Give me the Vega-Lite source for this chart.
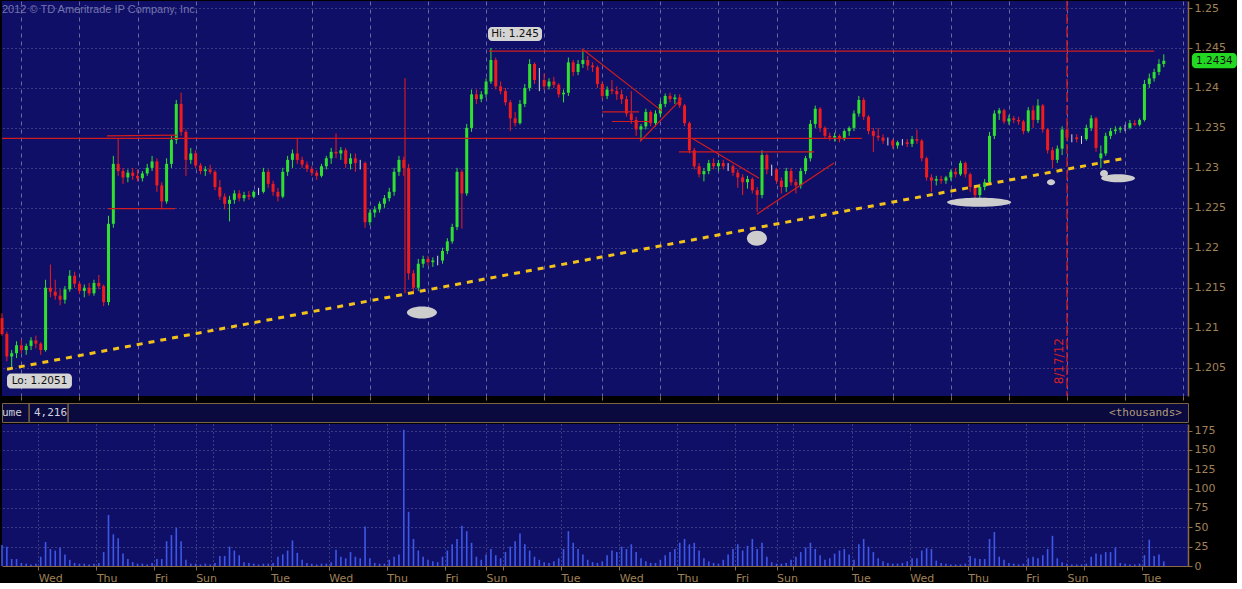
{
"$schema":"https://vega.github.io/schema/vega-lite/v6.json",
"background":"#000000",
"padding":0,
"spacing":0,
"config":{"view":{"stroke":null},"font":"DejaVu Sans","scale":{"continuousPadding":0}},
"datasets":{
"bars":[
{"t":0,"o":1.2112,"h":1.2118,"l":1.2090,"c":1.2092,"v":27},
{"t":2,"o":1.2092,"h":1.2095,"l":1.2058,"c":1.2064,"v":25},
{"t":4,"o":1.2064,"h":1.2072,"l":1.2051,"c":1.2068,"v":9},
{"t":6,"o":1.2068,"h":1.2083,"l":1.2062,"c":1.2078,"v":9},
{"t":8,"o":1.2078,"h":1.2085,"l":1.2068,"c":1.2072,"v":4},
{"t":10,"o":1.2072,"h":1.2080,"l":1.2066,"c":1.2077,"v":3},
{"t":12,"o":1.2077,"h":1.2088,"l":1.2072,"c":1.2084,"v":2},
{"t":14,"o":1.2084,"h":1.2090,"l":1.2074,"c":1.2080,"v":3},
{"t":16,"o":1.2080,"h":1.2082,"l":1.2066,"c":1.2072,"v":12},
{"t":18,"o":1.2072,"h":1.2160,"l":1.2070,"c":1.2150,"v":31},
{"t":20,"o":1.2150,"h":1.2179,"l":1.2138,"c":1.2145,"v":22},
{"t":22,"o":1.2145,"h":1.2160,"l":1.2135,"c":1.2140,"v":20},
{"t":24,"o":1.2140,"h":1.2148,"l":1.2128,"c":1.2135,"v":24},
{"t":26,"o":1.2135,"h":1.2152,"l":1.2130,"c":1.2148,"v":15},
{"t":28,"o":1.2148,"h":1.2172,"l":1.2145,"c":1.2165,"v":8},
{"t":30,"o":1.2165,"h":1.2170,"l":1.2150,"c":1.2155,"v":4},
{"t":32,"o":1.2155,"h":1.2158,"l":1.2142,"c":1.2146,"v":3},
{"t":34,"o":1.2146,"h":1.2154,"l":1.2138,"c":1.2150,"v":3},
{"t":36,"o":1.2150,"h":1.2156,"l":1.2140,"c":1.2143,"v":2},
{"t":38,"o":1.2143,"h":1.2160,"l":1.2140,"c":1.2156,"v":3},
{"t":40,"o":1.2156,"h":1.2166,"l":1.2148,"c":1.2152,"v":4},
{"t":42,"o":1.2152,"h":1.2154,"l":1.2127,"c":1.2132,"v":18},
{"t":44,"o":1.2132,"h":1.2240,"l":1.2128,"c":1.2230,"v":66},
{"t":46,"o":1.2230,"h":1.2315,"l":1.2225,"c":1.2305,"v":41},
{"t":48,"o":1.2305,"h":1.2336,"l":1.2290,"c":1.2296,"v":36},
{"t":50,"o":1.2296,"h":1.2300,"l":1.2280,"c":1.2288,"v":16},
{"t":52,"o":1.2288,"h":1.2298,"l":1.2282,"c":1.2294,"v":9},
{"t":54,"o":1.2294,"h":1.2300,"l":1.2285,"c":1.2290,"v":5},
{"t":56,"o":1.2290,"h":1.2298,"l":1.2283,"c":1.2287,"v":3},
{"t":58,"o":1.2287,"h":1.2296,"l":1.2283,"c":1.2293,"v":3},
{"t":60,"o":1.2293,"h":1.2305,"l":1.2290,"c":1.2300,"v":2},
{"t":62,"o":1.2300,"h":1.2315,"l":1.2296,"c":1.2308,"v":4},
{"t":64,"o":1.2308,"h":1.2312,"l":1.2270,"c":1.2278,"v":9},
{"t":66,"o":1.2278,"h":1.2282,"l":1.2248,"c":1.2258,"v":9},
{"t":68,"o":1.2258,"h":1.2312,"l":1.2255,"c":1.2305,"v":32},
{"t":70,"o":1.2305,"h":1.2340,"l":1.2300,"c":1.2335,"v":40},
{"t":72,"o":1.2335,"h":1.2385,"l":1.2330,"c":1.2380,"v":49},
{"t":74,"o":1.2380,"h":1.2394,"l":1.2340,"c":1.2345,"v":32},
{"t":76,"o":1.2345,"h":1.2348,"l":1.2290,"c":1.2310,"v":8},
{"t":78,"o":1.2310,"h":1.2325,"l":1.2305,"c":1.2318,"v":3},
{"t":80,"o":1.2318,"h":1.2322,"l":1.2300,"c":1.2303,"v":3},
{"t":82,"o":1.2303,"h":1.2306,"l":1.2292,"c":1.2296,"v":2},
{"t":84,"o":1.2296,"h":1.2302,"l":1.2290,"c":1.2298,"v":3},
{"t":86,"o":1.2298,"h":1.2304,"l":1.2292,"c":1.2295,"v":2},
{"t":88,"o":1.2295,"h":1.2297,"l":1.2272,"c":1.2276,"v":4},
{"t":90,"o":1.2276,"h":1.2285,"l":1.2260,"c":1.2264,"v":13},
{"t":92,"o":1.2264,"h":1.2268,"l":1.2248,"c":1.2255,"v":13},
{"t":94,"o":1.2255,"h":1.2265,"l":1.2233,"c":1.2260,"v":25},
{"t":96,"o":1.2260,"h":1.2272,"l":1.2255,"c":1.2268,"v":20},
{"t":98,"o":1.2268,"h":1.2272,"l":1.2258,"c":1.2262,"v":14},
{"t":100,"o":1.2262,"h":1.2270,"l":1.2258,"c":1.2266,"v":5},
{"t":102,"o":1.2266,"h":1.2271,"l":1.2260,"c":1.2264,"v":4},
{"t":104,"o":1.2264,"h":1.2272,"l":1.2262,"c":1.2270,"v":3},
{"t":106,"o":1.2270,"h":1.2275,"l":1.2266,"c":1.2270,"v":2},
{"t":108,"o":1.2270,"h":1.2300,"l":1.2268,"c":1.2295,"v":3},
{"t":110,"o":1.2295,"h":1.2298,"l":1.2275,"c":1.2280,"v":3},
{"t":112,"o":1.2280,"h":1.2284,"l":1.2265,"c":1.2270,"v":4},
{"t":114,"o":1.2270,"h":1.2275,"l":1.2258,"c":1.2264,"v":12},
{"t":116,"o":1.2264,"h":1.2300,"l":1.2262,"c":1.2295,"v":15},
{"t":118,"o":1.2295,"h":1.2315,"l":1.2290,"c":1.2310,"v":20},
{"t":120,"o":1.2310,"h":1.2323,"l":1.2300,"c":1.2318,"v":33},
{"t":122,"o":1.2318,"h":1.2337,"l":1.2305,"c":1.2310,"v":17},
{"t":124,"o":1.2310,"h":1.2314,"l":1.2300,"c":1.2304,"v":8},
{"t":126,"o":1.2304,"h":1.2308,"l":1.2295,"c":1.2299,"v":4},
{"t":128,"o":1.2299,"h":1.2302,"l":1.2290,"c":1.2294,"v":3},
{"t":130,"o":1.2294,"h":1.2297,"l":1.2285,"c":1.2290,"v":2},
{"t":132,"o":1.2290,"h":1.2305,"l":1.2288,"c":1.2302,"v":3},
{"t":134,"o":1.2302,"h":1.2315,"l":1.2298,"c":1.2312,"v":3},
{"t":136,"o":1.2312,"h":1.2325,"l":1.2305,"c":1.2320,"v":5},
{"t":138,"o":1.2320,"h":1.2343,"l":1.2312,"c":1.2318,"v":21},
{"t":140,"o":1.2318,"h":1.2326,"l":1.2310,"c":1.2322,"v":12},
{"t":142,"o":1.2322,"h":1.2325,"l":1.2300,"c":1.2305,"v":10},
{"t":144,"o":1.2305,"h":1.2318,"l":1.2298,"c":1.2312,"v":18},
{"t":146,"o":1.2312,"h":1.2318,"l":1.2295,"c":1.2306,"v":12},
{"t":148,"o":1.2306,"h":1.2310,"l":1.2298,"c":1.2306,"v":10},
{"t":150,"o":1.2306,"h":1.2308,"l":1.2225,"c":1.2232,"v":51},
{"t":152,"o":1.2232,"h":1.2248,"l":1.2228,"c":1.2244,"v":10},
{"t":154,"o":1.2244,"h":1.2252,"l":1.2238,"c":1.2248,"v":4},
{"t":156,"o":1.2248,"h":1.2258,"l":1.2244,"c":1.2255,"v":3},
{"t":158,"o":1.2255,"h":1.2266,"l":1.2250,"c":1.2262,"v":3},
{"t":160,"o":1.2262,"h":1.2275,"l":1.2258,"c":1.2270,"v":8},
{"t":162,"o":1.2270,"h":1.2300,"l":1.2265,"c":1.2295,"v":12},
{"t":164,"o":1.2295,"h":1.2315,"l":1.2290,"c":1.2310,"v":15},
{"t":166,"o":1.2310,"h":1.2314,"l":1.2290,"c":1.2300,"v":176},
{"t":168,"o":1.2300,"h":1.2305,"l":1.2160,"c":1.2168,"v":70},
{"t":170,"o":1.2168,"h":1.2172,"l":1.2142,"c":1.2150,"v":35},
{"t":172,"o":1.2150,"h":1.2186,"l":1.2146,"c":1.2180,"v":20},
{"t":174,"o":1.2180,"h":1.2190,"l":1.2175,"c":1.2186,"v":12},
{"t":176,"o":1.2186,"h":1.2190,"l":1.2178,"c":1.2182,"v":8},
{"t":178,"o":1.2182,"h":1.2188,"l":1.2176,"c":1.2184,"v":6},
{"t":180,"o":1.2184,"h":1.2190,"l":1.2178,"c":1.2184,"v":5},
{"t":182,"o":1.2184,"h":1.2200,"l":1.2180,"c":1.2196,"v":12},
{"t":184,"o":1.2196,"h":1.2212,"l":1.2192,"c":1.2208,"v":20},
{"t":186,"o":1.2208,"h":1.2230,"l":1.2205,"c":1.2226,"v":28},
{"t":188,"o":1.2226,"h":1.2300,"l":1.2222,"c":1.2295,"v":35},
{"t":190,"o":1.2295,"h":1.2298,"l":1.2224,"c":1.2268,"v":52},
{"t":192,"o":1.2268,"h":1.2355,"l":1.2265,"c":1.2350,"v":45},
{"t":194,"o":1.2350,"h":1.2398,"l":1.2345,"c":1.2392,"v":30},
{"t":196,"o":1.2392,"h":1.2398,"l":1.2380,"c":1.2386,"v":12},
{"t":198,"o":1.2386,"h":1.2396,"l":1.2382,"c":1.2392,"v":8},
{"t":200,"o":1.2392,"h":1.2412,"l":1.2388,"c":1.2408,"v":15},
{"t":202,"o":1.2408,"h":1.2450,"l":1.2405,"c":1.2435,"v":22},
{"t":204,"o":1.2435,"h":1.2438,"l":1.2398,"c":1.2402,"v":14},
{"t":206,"o":1.2402,"h":1.2408,"l":1.2392,"c":1.2396,"v":10},
{"t":208,"o":1.2396,"h":1.2400,"l":1.2378,"c":1.2382,"v":18},
{"t":210,"o":1.2382,"h":1.2385,"l":1.2346,"c":1.2362,"v":25},
{"t":212,"o":1.2362,"h":1.2370,"l":1.2352,"c":1.2356,"v":32},
{"t":214,"o":1.2356,"h":1.2385,"l":1.2354,"c":1.2380,"v":42},
{"t":216,"o":1.2380,"h":1.2405,"l":1.2376,"c":1.2400,"v":28},
{"t":218,"o":1.2400,"h":1.2436,"l":1.2396,"c":1.2430,"v":20},
{"t":220,"o":1.2430,"h":1.2432,"l":1.2405,"c":1.2410,"v":12},
{"t":222,"o":1.2410,"h":1.2425,"l":1.2396,"c":1.2410,"v":8},
{"t":224,"o":1.2410,"h":1.2418,"l":1.2398,"c":1.2402,"v":5},
{"t":226,"o":1.2402,"h":1.2412,"l":1.2398,"c":1.2408,"v":4},
{"t":228,"o":1.2408,"h":1.2414,"l":1.2400,"c":1.2404,"v":6},
{"t":230,"o":1.2404,"h":1.2406,"l":1.2388,"c":1.2392,"v":10},
{"t":232,"o":1.2392,"h":1.2398,"l":1.2382,"c":1.2394,"v":22},
{"t":234,"o":1.2394,"h":1.2438,"l":1.2390,"c":1.2432,"v":45},
{"t":236,"o":1.2432,"h":1.2435,"l":1.2415,"c":1.2420,"v":30},
{"t":238,"o":1.2420,"h":1.2435,"l":1.2416,"c":1.2430,"v":22},
{"t":240,"o":1.2430,"h":1.2447,"l":1.2425,"c":1.2435,"v":15},
{"t":242,"o":1.2435,"h":1.2440,"l":1.2422,"c":1.2428,"v":8},
{"t":244,"o":1.2428,"h":1.2432,"l":1.2420,"c":1.2426,"v":5},
{"t":246,"o":1.2426,"h":1.2428,"l":1.2400,"c":1.2405,"v":4},
{"t":248,"o":1.2405,"h":1.2408,"l":1.2386,"c":1.2390,"v":6},
{"t":250,"o":1.2390,"h":1.2402,"l":1.2386,"c":1.2398,"v":14},
{"t":252,"o":1.2398,"h":1.2410,"l":1.2392,"c":1.2396,"v":20},
{"t":254,"o":1.2396,"h":1.2402,"l":1.2385,"c":1.2392,"v":18},
{"t":256,"o":1.2392,"h":1.2398,"l":1.2380,"c":1.2386,"v":25},
{"t":258,"o":1.2386,"h":1.2390,"l":1.2364,"c":1.2368,"v":22},
{"t":260,"o":1.2368,"h":1.2396,"l":1.2355,"c":1.2360,"v":28},
{"t":262,"o":1.2360,"h":1.2364,"l":1.2340,"c":1.2348,"v":18},
{"t":264,"o":1.2348,"h":1.2355,"l":1.2334,"c":1.2352,"v":10},
{"t":266,"o":1.2352,"h":1.2374,"l":1.2348,"c":1.2370,"v":6},
{"t":268,"o":1.2370,"h":1.2372,"l":1.2352,"c":1.2356,"v":4},
{"t":270,"o":1.2356,"h":1.2372,"l":1.2352,"c":1.2368,"v":4},
{"t":272,"o":1.2368,"h":1.2384,"l":1.2364,"c":1.2380,"v":8},
{"t":274,"o":1.2380,"h":1.2393,"l":1.2376,"c":1.2390,"v":14},
{"t":276,"o":1.2390,"h":1.2394,"l":1.2382,"c":1.2386,"v":18},
{"t":278,"o":1.2386,"h":1.2392,"l":1.2380,"c":1.2388,"v":22},
{"t":280,"o":1.2388,"h":1.2392,"l":1.2375,"c":1.2378,"v":30},
{"t":282,"o":1.2378,"h":1.2380,"l":1.2352,"c":1.2356,"v":35},
{"t":284,"o":1.2356,"h":1.2358,"l":1.2318,"c":1.2322,"v":28},
{"t":286,"o":1.2322,"h":1.2325,"l":1.2298,"c":1.2302,"v":30},
{"t":288,"o":1.2302,"h":1.2306,"l":1.2288,"c":1.2292,"v":20},
{"t":290,"o":1.2292,"h":1.2300,"l":1.2283,"c":1.2296,"v":10},
{"t":292,"o":1.2296,"h":1.2310,"l":1.2292,"c":1.2306,"v":6},
{"t":294,"o":1.2306,"h":1.2312,"l":1.2298,"c":1.2302,"v":4},
{"t":296,"o":1.2302,"h":1.2310,"l":1.2296,"c":1.2306,"v":3},
{"t":298,"o":1.2306,"h":1.2310,"l":1.2298,"c":1.2302,"v":8},
{"t":300,"o":1.2302,"h":1.2306,"l":1.2296,"c":1.2302,"v":15},
{"t":302,"o":1.2302,"h":1.2304,"l":1.2290,"c":1.2294,"v":22},
{"t":304,"o":1.2294,"h":1.2298,"l":1.2275,"c":1.2288,"v":28},
{"t":306,"o":1.2288,"h":1.2292,"l":1.2266,"c":1.2282,"v":20},
{"t":308,"o":1.2282,"h":1.2290,"l":1.2274,"c":1.2286,"v":26},
{"t":310,"o":1.2286,"h":1.2288,"l":1.2268,"c":1.2272,"v":35},
{"t":312,"o":1.2272,"h":1.2276,"l":1.2245,"c":1.2266,"v":22},
{"t":314,"o":1.2266,"h":1.2322,"l":1.2262,"c":1.2316,"v":30},
{"t":316,"o":1.2316,"h":1.2318,"l":1.2292,"c":1.2298,"v":12},
{"t":318,"o":1.2298,"h":1.2304,"l":1.2290,"c":1.2298,"v":5},
{"t":320,"o":1.2298,"h":1.2300,"l":1.2280,"c":1.2284,"v":3},
{"t":322,"o":1.2284,"h":1.2288,"l":1.2268,"c":1.2276,"v":3},
{"t":324,"o":1.2276,"h":1.2300,"l":1.2270,"c":1.2296,"v":4},
{"t":326,"o":1.2296,"h":1.2300,"l":1.2278,"c":1.2282,"v":8},
{"t":328,"o":1.2282,"h":1.2286,"l":1.2268,"c":1.2278,"v":12},
{"t":330,"o":1.2278,"h":1.2300,"l":1.2274,"c":1.2296,"v":18},
{"t":332,"o":1.2296,"h":1.2315,"l":1.2292,"c":1.2312,"v":24},
{"t":334,"o":1.2312,"h":1.2360,"l":1.2308,"c":1.2355,"v":30},
{"t":336,"o":1.2355,"h":1.2378,"l":1.2350,"c":1.2374,"v":22},
{"t":338,"o":1.2374,"h":1.2376,"l":1.2345,"c":1.2350,"v":14},
{"t":340,"o":1.2350,"h":1.2352,"l":1.2336,"c":1.2340,"v":8},
{"t":342,"o":1.2340,"h":1.2344,"l":1.2334,"c":1.2338,"v":10},
{"t":344,"o":1.2338,"h":1.2344,"l":1.2333,"c":1.2340,"v":16},
{"t":346,"o":1.2340,"h":1.2342,"l":1.2332,"c":1.2336,"v":20},
{"t":348,"o":1.2336,"h":1.2348,"l":1.2334,"c":1.2346,"v":22},
{"t":350,"o":1.2346,"h":1.2352,"l":1.2340,"c":1.2350,"v":15},
{"t":352,"o":1.2350,"h":1.2372,"l":1.2346,"c":1.2368,"v":8},
{"t":354,"o":1.2368,"h":1.2390,"l":1.2364,"c":1.2385,"v":28},
{"t":356,"o":1.2385,"h":1.2388,"l":1.2360,"c":1.2364,"v":35},
{"t":358,"o":1.2364,"h":1.2366,"l":1.2342,"c":1.2346,"v":25},
{"t":360,"o":1.2346,"h":1.2350,"l":1.2320,"c":1.2340,"v":18},
{"t":362,"o":1.2340,"h":1.2350,"l":1.2334,"c":1.2338,"v":10},
{"t":364,"o":1.2338,"h":1.2342,"l":1.2330,"c":1.2334,"v":6},
{"t":366,"o":1.2334,"h":1.2338,"l":1.2328,"c":1.2334,"v":4},
{"t":368,"o":1.2334,"h":1.2336,"l":1.2324,"c":1.2328,"v":3},
{"t":370,"o":1.2328,"h":1.2334,"l":1.2324,"c":1.2332,"v":3},
{"t":372,"o":1.2332,"h":1.2336,"l":1.2328,"c":1.2332,"v":4},
{"t":374,"o":1.2332,"h":1.2336,"l":1.2326,"c":1.2330,"v":6},
{"t":376,"o":1.2330,"h":1.2340,"l":1.2326,"c":1.2336,"v":10},
{"t":378,"o":1.2336,"h":1.2348,"l":1.2330,"c":1.2334,"v":10},
{"t":380,"o":1.2334,"h":1.2336,"l":1.2308,"c":1.2312,"v":20},
{"t":382,"o":1.2312,"h":1.2314,"l":1.2284,"c":1.2288,"v":23},
{"t":384,"o":1.2288,"h":1.2292,"l":1.2270,"c":1.2284,"v":22},
{"t":386,"o":1.2284,"h":1.2290,"l":1.2278,"c":1.2286,"v":7},
{"t":388,"o":1.2286,"h":1.2290,"l":1.2280,"c":1.2284,"v":4},
{"t":390,"o":1.2284,"h":1.2290,"l":1.2280,"c":1.2288,"v":3},
{"t":392,"o":1.2288,"h":1.2298,"l":1.2284,"c":1.2295,"v":2},
{"t":394,"o":1.2295,"h":1.2300,"l":1.2288,"c":1.2292,"v":2},
{"t":396,"o":1.2292,"h":1.2309,"l":1.2290,"c":1.2306,"v":2},
{"t":398,"o":1.2306,"h":1.2308,"l":1.2288,"c":1.2292,"v":3},
{"t":400,"o":1.2292,"h":1.2294,"l":1.2270,"c":1.2276,"v":13},
{"t":402,"o":1.2276,"h":1.2278,"l":1.2258,"c":1.2266,"v":10},
{"t":404,"o":1.2266,"h":1.2280,"l":1.2262,"c":1.2276,"v":9},
{"t":406,"o":1.2276,"h":1.2286,"l":1.2272,"c":1.2282,"v":9},
{"t":408,"o":1.2282,"h":1.2345,"l":1.2280,"c":1.2340,"v":35},
{"t":410,"o":1.2340,"h":1.2372,"l":1.2336,"c":1.2368,"v":44},
{"t":412,"o":1.2368,"h":1.2375,"l":1.2360,"c":1.2372,"v":12},
{"t":414,"o":1.2372,"h":1.2374,"l":1.2355,"c":1.2358,"v":8},
{"t":416,"o":1.2358,"h":1.2366,"l":1.2354,"c":1.2362,"v":4},
{"t":418,"o":1.2362,"h":1.2365,"l":1.2356,"c":1.2360,"v":3},
{"t":420,"o":1.2360,"h":1.2364,"l":1.2354,"c":1.2358,"v":2},
{"t":422,"o":1.2358,"h":1.2360,"l":1.2342,"c":1.2346,"v":3},
{"t":424,"o":1.2346,"h":1.2376,"l":1.2344,"c":1.2372,"v":10},
{"t":426,"o":1.2372,"h":1.2378,"l":1.2350,"c":1.2360,"v":12},
{"t":428,"o":1.2360,"h":1.2386,"l":1.2356,"c":1.2378,"v":10},
{"t":430,"o":1.2378,"h":1.2380,"l":1.2344,"c":1.2348,"v":14},
{"t":432,"o":1.2348,"h":1.2350,"l":1.2318,"c":1.2322,"v":22},
{"t":434,"o":1.2322,"h":1.2326,"l":1.2300,"c":1.2310,"v":39},
{"t":436,"o":1.2310,"h":1.2328,"l":1.2306,"c":1.2324,"v":10},
{"t":438,"o":1.2324,"h":1.2352,"l":1.2316,"c":1.2348,"v":5},
{"t":440,"o":1.2348,"h":1.2350,"l":1.2334,"c":1.2338,"v":3},
{"t":442,"o":1.2338,"h":1.2342,"l":1.2332,"c":1.2338,"v":2},
{"t":444,"o":1.2338,"h":1.2342,"l":1.2332,"c":1.2336,"v":2},
{"t":446,"o":1.2336,"h":1.2340,"l":1.2330,"c":1.2336,"v":2},
{"t":448,"o":1.2336,"h":1.2354,"l":1.2334,"c":1.2350,"v":3},
{"t":450,"o":1.2350,"h":1.2366,"l":1.2346,"c":1.2362,"v":12},
{"t":452,"o":1.2362,"h":1.2364,"l":1.2320,"c":1.2325,"v":16},
{"t":454,"o":1.2312,"h":1.2328,"l":1.2300,"c":1.2318,"v":15},
{"t":456,"o":1.2318,"h":1.2344,"l":1.2315,"c":1.2340,"v":18},
{"t":458,"o":1.2340,"h":1.2350,"l":1.2336,"c":1.2346,"v":18},
{"t":460,"o":1.2346,"h":1.2352,"l":1.2342,"c":1.2348,"v":24},
{"t":462,"o":1.2348,"h":1.2352,"l":1.2344,"c":1.2350,"v":4},
{"t":464,"o":1.2350,"h":1.2354,"l":1.2346,"c":1.2350,"v":3},
{"t":466,"o":1.2350,"h":1.2360,"l":1.2348,"c":1.2356,"v":2},
{"t":468,"o":1.2356,"h":1.2360,"l":1.2352,"c":1.2354,"v":2},
{"t":470,"o":1.2354,"h":1.2362,"l":1.2352,"c":1.2360,"v":3},
{"t":472,"o":1.2360,"h":1.2410,"l":1.2358,"c":1.2405,"v":14},
{"t":474,"o":1.2405,"h":1.2418,"l":1.2400,"c":1.2412,"v":34},
{"t":476,"o":1.2412,"h":1.2424,"l":1.2408,"c":1.2420,"v":13},
{"t":478,"o":1.2420,"h":1.2436,"l":1.2416,"c":1.2430,"v":15},
{"t":480,"o":1.2430,"h":1.2442,"l":1.2426,"c":1.2434,"v":6}
],
"lines":[
{"t1":0,"p1":1.2337,"t2":355.3,"p2":1.2337},
{"t1":43.4,"p1":1.2340,"t2":72.3,"p2":1.2341},
{"t1":43.8,"p1":1.2249,"t2":71.5,"p2":1.2249},
{"t1":201.2,"p1":1.2446,"t2":476,"p2":1.2446},
{"t1":166.5,"p1":1.2412,"t2":166.5,"p2":1.2143},
{"t1":239.6,"p1":1.2449,"t2":272.7,"p2":1.2371},
{"t1":263.6,"p1":1.2333,"t2":280.9,"p2":1.2387},
{"t1":247.9,"p1":1.2370,"t2":263.2,"p2":1.2370},
{"t1":252,"p1":1.2358,"t2":268.5,"p2":1.2358},
{"t1":279.7,"p1":1.2320,"t2":335.5,"p2":1.2320},
{"t1":285.1,"p1":1.2337,"t2":312.8,"p2":1.2287},
{"t1":311.9,"p1":1.2242,"t2":343.7,"p2":1.2306}
],
"trend":[{"t1":2.07,"p1":1.2048,"t2":463.9,"p2":1.2312}],
"marker":[{"t":440,"p":1.2058,"txt":"8/17/12"}],
"ells":[
{"t":173.5,"p":1.2119,"e":"a"},
{"t":311.9,"p":1.2212,"e":"b"},
{"t":403.7,"p":1.2257,"e":"c"},
{"t":433.4,"p":1.2282,"e":"d"},
{"t":461.1,"p":1.2287,"e":"e"},
{"t":455.3,"p":1.2293,"e":"f"}
],
"boxes":[
{"t1":200.8,"t2":223.1,"p1":1.24762,"p2":1.24587,"tc":211.95,"pc":1.24675,"txt":"Hi: 1.245","k":"hl"},
{"t1":2.07,"t2":28.9,"p1":1.20427,"p2":1.20238,"tc":15.5,"pc":1.20333,"txt":"Lo: 1.2051","k":"hl"},
{"t1":491.6,"t2":510.2,"p1":1.24436,"p2":1.24248,"tc":500.9,"pc":1.24342,"txt":"1.2434","k":"last"}
],
"copy":[{"t":0,"p":1.2497,"txt":"2012 © TD Ameritrade IP Company, Inc."}],
"hdrL":[{"t":0,"txt":"ume"},{"t":13.2,"txt":"4,216"}],
"hdrR":[{"t":487.5,"txt":"<thousands>"}],
"hdrSep":[{"t":11.2},{"t":27.3}]
},
"vconcat":[
{
"width":1186,"height":395,
"view":{"fill":"#0f0f68","stroke":null},
"layer":[
{"data":{"name":"bars"},"mark":{"type":"rule","strokeWidth":1},
"encoding":{
"x":{"field":"t","type":"quantitative","title":null,"scale":{"domain":[0,490],"nice":false,"zero":false,"padding":0},
"axis":{"title":null,"values":[8,15,32,39,56,63,80,87,104,111,128,135,152,159,176,183,200,207,224,231,248,255,272,279,296,303,320,327,344,351,368,375,392,399,416,423,440,447,464,471,488],"labels":false,"ticks":true,"tickSize":4,"tickColor":"#8c6c45","domain":false,"grid":true,"gridColor":"#a4a4bc","gridOpacity":0.6,"gridDash":{"condition":{"test":"(datum.value - 8) % 24 === 0","value":[4,4]},"value":[1,3]}}},
"y":{"field":"l","type":"quantitative","title":null,"scale":{"domain":[1.20145,1.25088],"nice":false,"zero":false,"padding":0},
"axis":{"title":null,"orient":"right","values":[1.205,1.21,1.215,1.22,1.225,1.23,1.235,1.24,1.245,1.25],"format":".4~f","labelColor":"#a08258","labelFontSize":11,"labelPadding":2,"tickColor":"#8c6c45","tickSize":4,"domainColor":"#8c6c45","domainWidth":1.5,"grid":true,"gridDash":[1,3],"gridColor":"#a4a4bc","gridOpacity":0.6}},
"y2":{"field":"h"},
"color":{"condition":[{"test":"datum.c > datum.o","value":"#2fe02f"},{"test":"datum.c < datum.o","value":"#f01c1c"}],"value":"#d8d8d8"}
}},
{"data":{"name":"bars"},"mark":{"type":"bar","width":3},
"encoding":{
"x":{"field":"t","type":"quantitative","title":null},
"y":{"field":"o","type":"quantitative","title":null},
"y2":{"field":"c"},
"color":{"condition":[{"test":"datum.c > datum.o","value":"#2fe02f"},{"test":"datum.c < datum.o","value":"#f01c1c"}],"value":"#d8d8d8"}
}},
{"data":{"name":"lines"},"mark":{"type":"rule","color":"#d01c1c","strokeWidth":1.2},
"encoding":{"x":{"field":"t1","type":"quantitative","title":null},"x2":{"field":"t2"},"y":{"field":"p1","type":"quantitative","title":null},"y2":{"field":"p2"}}},
{"data":{"name":"marker"},"mark":{"type":"rule","color":"#d42020","strokeWidth":1.3,"strokeDash":[10,3]},
"encoding":{"x":{"field":"t","type":"quantitative","title":null}}},
{"data":{"name":"trend"},"mark":{"type":"rule","color":"#f2c21a","strokeWidth":3,"strokeDash":[6,6],"strokeCap":"butt"},
"encoding":{"x":{"field":"t1","type":"quantitative","title":null},"x2":{"field":"t2"},"y":{"field":"p1","type":"quantitative","title":null},"y2":{"field":"p2"}}},
{"data":{"name":"ells"},"mark":{"type":"point","filled":true,"opacity":1,"color":"#cdcdcd","size":4},
"encoding":{"x":{"field":"t","type":"quantitative","title":null},"y":{"field":"p","type":"quantitative","title":null},
"shape":{"field":"e","type":"nominal","legend":null,"scale":{"domain":["a","b","c","d","e","f"],"range":["M-15,0A15,6,0,1,0,15,0A15,6,0,1,0,-15,0Z","M-10,0A10,7.5,0,1,0,10,0A10,7.5,0,1,0,-10,0Z","M-32,0A32,4.5,0,1,0,32,0A32,4.5,0,1,0,-32,0Z","M-4,0A4,3,0,1,0,4,0A4,3,0,1,0,-4,0Z","M-17,0A17,4,0,1,0,17,0A17,4,0,1,0,-17,0Z","M-4,0A4,3.5,0,1,0,4,0A4,3.5,0,1,0,-4,0Z"]}}}},
{"data":{"name":"boxes"},"mark":{"type":"rect","cornerRadius":4},
"encoding":{"x":{"field":"t1","type":"quantitative","title":null},"x2":{"field":"t2"},"y":{"field":"p1","type":"quantitative","title":null},"y2":{"field":"p2"},
"color":{"field":"k","type":"nominal","legend":null,"scale":{"domain":["hl","last"],"range":["#d4d4d4","#22d822"]}}}},
{"data":{"name":"boxes"},"mark":{"type":"text","fontSize":10.5,"color":"#101010","align":"center","baseline":"middle"},
"encoding":{"x":{"field":"tc","type":"quantitative","title":null},"y":{"field":"pc","type":"quantitative","title":null},"text":{"field":"txt"}}},
{"data":{"name":"copy"},"mark":{"type":"text","font":"Liberation Sans","fontSize":11,"color":"#7474ad","align":"left","baseline":"middle"},
"encoding":{"x":{"field":"t","type":"quantitative","title":null},"y":{"field":"p","type":"quantitative","title":null},"text":{"field":"txt"}}},
{"data":{"name":"marker"},"mark":{"type":"text","fontSize":12,"color":"#d42020","angle":270,"align":"center","baseline":"middle","dy":-8},
"encoding":{"x":{"field":"t","type":"quantitative","title":null},"y":{"field":"p","type":"quantitative","title":null},"text":{"field":"txt"}}}
]
},
{
"spacing":0,
"vconcat":[
{
"width":1186,"height":19,
"view":{"fill":"#0a0a3e","stroke":"#7b6444"},
"layer":[
{"data":{"name":"hdrSep"},"mark":{"type":"rule","color":"#7b6444","strokeWidth":1.5},
"encoding":{"x":{"field":"t","type":"quantitative","scale":{"domain":[0,490],"nice":false,"zero":false,"padding":0},"axis":null}}},
{"data":{"name":"hdrL"},"mark":{"type":"text","font":"DejaVu Sans Mono","fontSize":11,"color":"#d0d0dc","align":"left","baseline":"middle"},
"encoding":{"x":{"field":"t","type":"quantitative","axis":null},"text":{"field":"txt"}}},
{"data":{"name":"hdrR"},"mark":{"type":"text","font":"DejaVu Sans Mono","fontSize":11,"color":"#b39c7c","align":"right","baseline":"middle"},
"encoding":{"x":{"field":"t","type":"quantitative","axis":null},"text":{"field":"txt"}}}
]
},
{
"width":1186,"height":142,
"view":{"fill":"#0f0f68","stroke":null},
"data":{"name":"bars"},
"mark":{"type":"bar","width":1.6,"color":"#3d58e6"},
"encoding":{
"x":{"field":"t","type":"quantitative","title":null,"scale":{"domain":[0,490],"nice":false,"zero":false,"padding":0},
"axis":{"title":null,"values":[15,39,63,80,87,111,135,159,183,200,207,231,255,279,303,320,327,351,375,399,423,440,447,471],
"labelExpr":"['Wed','Thu','Fri','Sun','','Tue','Wed','Thu','Fri','Sun','','Tue','Wed','Thu','Fri','Sun','','Tue','Wed','Thu','Fri','Sun','','Tue'][indexof([15,39,63,80,87,111,135,159,183,200,207,231,255,279,303,320,327,351,375,399,423,440,447,471], datum.value)]",
"labelAlign":"left","labelBaseline":"top","labelPadding":2,"labelColor":"#a08258","labelFontSize":11,"labelOverlap":false,"labelFlush":false,"tickColor":"#8c6c45","tickSize":4,"domainColor":"#8c6c45","grid":true,"gridDash":[1,3],"gridColor":"#a4a4bc","gridOpacity":0.6}},
"y":{"field":"v","type":"quantitative","title":null,"scale":{"domain":[0,183.5],"nice":false,"zero":true,"padding":0},
"axis":{"title":null,"orient":"right","values":[0,25,50,75,100,125,150,175],"labelColor":"#a08258","labelFontSize":11,"labelPadding":2,"tickColor":"#8c6c45","tickSize":4,"domainColor":"#8c6c45","domainWidth":1.5,"grid":true,"gridDash":[1,3],"gridColor":"#a4a4bc","gridOpacity":0.6}}
}
}
]
}
]
}
